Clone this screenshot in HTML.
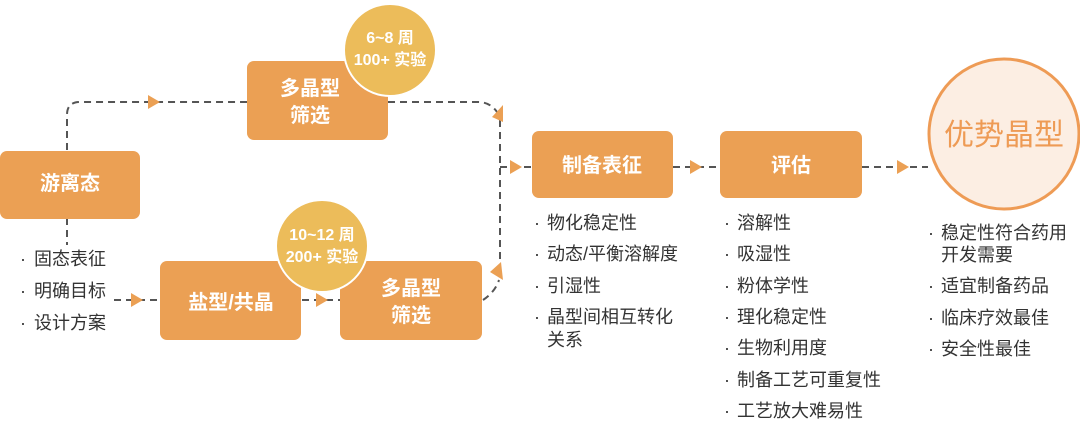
<!DOCTYPE html>
<html><head><meta charset="utf-8"><style>
body{margin:0;background:#fff;width:1080px;height:419px;overflow:hidden}
svg text{font-family:"Liberation Sans","Noto Sans CJK SC",sans-serif}
</style></head><body>
<svg width="1080" height="419" viewBox="0 0 1080 419" xmlns="http://www.w3.org/2000/svg">
<g fill="none" stroke="#555" stroke-width="2" stroke-dasharray="7,5">
<path d="M67 150 V115 Q67 102 80 102 H247"/>
<path d="M388 102 H478 Q490 102 497 112"/>
<path d="M500 120 V270"/>
<path d="M500 167 H532"/>
<path d="M67 218 V245"/>
<path d="M114 300 H160"/>
<path d="M302 300 H340"/>
<path d="M483 300 Q495 292 499 280"/>
<path d="M673 167 H720"/>
<path d="M862 167 H928"/>
</g>
<g fill="#EBA054">
<polygon points="148,95 160,102 148,109"/>
<polygon points="492,117 503,105 503,122"/>
<polygon points="490,272 501,262 503,280"/>
<polygon points="510,160 522,167 510,174"/>
<polygon points="131,293 143,300 131,307"/>
<polygon points="316,293 328,300 316,307"/>
<polygon points="690,160 702,167 690,174"/>
<polygon points="897,160 909,167 897,174"/>
</g>
<g fill="#EBA054">
<rect x="0" y="151" width="140" height="68" rx="7"/>
<rect x="247" y="61" width="141" height="79" rx="7"/>
<rect x="160" y="261" width="141" height="79" rx="7"/>
<rect x="340" y="261" width="142" height="79" rx="7"/>
<rect x="532" y="131" width="141" height="67" rx="7"/>
<rect x="720" y="131" width="142" height="67" rx="7"/>
</g>
<circle cx="390" cy="50" r="46" fill="#ECBC5A" stroke="#fff" stroke-width="2"/>
<circle cx="322" cy="246" r="46" fill="#ECBC5A" stroke="#fff" stroke-width="2"/>
<circle cx="1004" cy="134" r="75" fill="#FCEEE3" stroke="#EE9B55" stroke-width="3"/>
<g fill="#fff" font-size="20" font-weight="bold" text-anchor="middle">
<text x="70" y="190">游离态</text>
<text x="310" y="95">多晶型</text>
<text x="310" y="122">筛选</text>
<text x="231" y="309">盐型/共晶</text>
<text x="411" y="295">多晶型</text>
<text x="411" y="322">筛选</text>
<text x="602" y="172">制备表征</text>
<text x="791" y="172">评估</text>
</g>
<g fill="#fff" font-size="16" font-weight="bold" text-anchor="middle">
<text x="390" y="43">6~8 周</text>
<text x="390" y="65">100+ 实验</text>
<text x="322" y="240">10~12 周</text>
<text x="322" y="262">200+ 实验</text>
</g>
<text x="1004" y="145" font-size="30" fill="#EE9B55" text-anchor="middle">优势晶型</text>
<g fill="#333" font-size="18">
<text x="20" y="265">·</text><text x="34" y="265">固态表征</text>
<text x="20" y="297">·</text><text x="34" y="297">明确目标</text>
<text x="20" y="329">·</text><text x="34" y="329">设计方案</text>
<text x="534" y="229">·</text><text x="547" y="229">物化稳定性</text>
<text x="534" y="260">·</text><text x="547" y="260">动态/平衡溶解度</text>
<text x="534" y="292">·</text><text x="547" y="292">引湿性</text>
<text x="534" y="323">·</text><text x="547" y="323">晶型间相互转化</text>
<text x="547" y="346">关系</text>
<text x="724" y="229">·</text><text x="737" y="229">溶解性</text>
<text x="724" y="260">·</text><text x="737" y="260">吸湿性</text>
<text x="724" y="292">·</text><text x="737" y="292">粉体学性</text>
<text x="724" y="323">·</text><text x="737" y="323">理化稳定性</text>
<text x="724" y="354">·</text><text x="737" y="354">生物利用度</text>
<text x="724" y="386">·</text><text x="737" y="386">制备工艺可重复性</text>
<text x="724" y="417">·</text><text x="737" y="417">工艺放大难易性</text>
<text x="928" y="239">·</text><text x="941" y="239">稳定性符合药用</text>
<text x="941" y="261">开发需要</text>
<text x="928" y="292">·</text><text x="941" y="292">适宜制备药品</text>
<text x="928" y="324">·</text><text x="941" y="324">临床疗效最佳</text>
<text x="928" y="355">·</text><text x="941" y="355">安全性最佳</text>
</g>
</svg>
</body></html>
